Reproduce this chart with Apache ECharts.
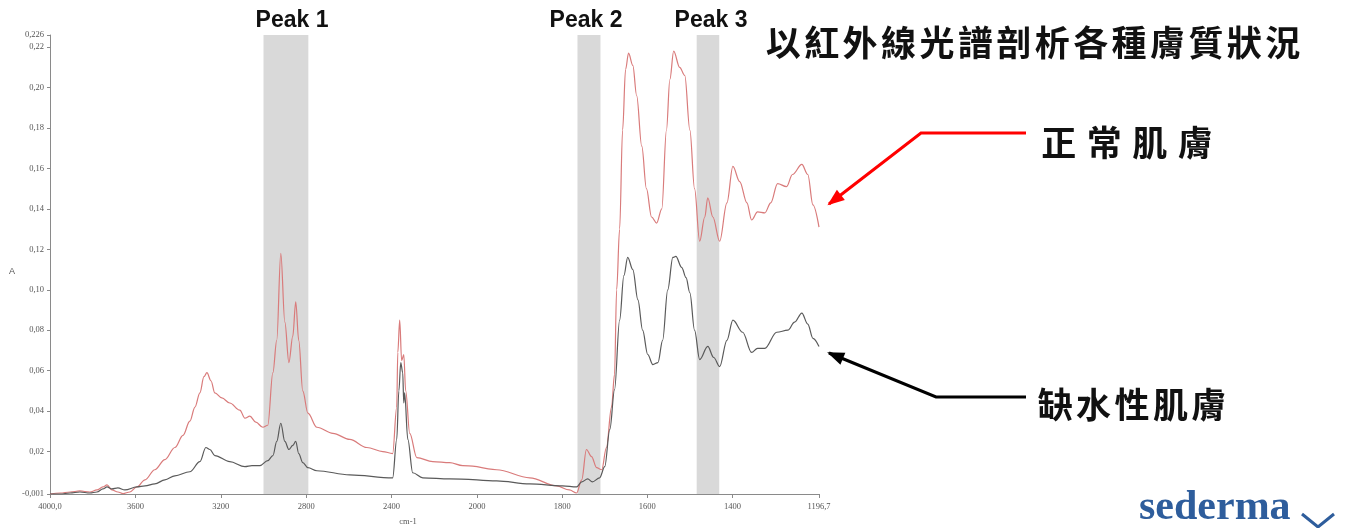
<!DOCTYPE html>
<html><head><meta charset="utf-8">
<script src="https://cdn.jsdelivr.net/npm/echarts@6/dist/echarts.min.js"></script>
<style>html,body{margin:0;padding:0;background:#fff}#c{width:1351px;height:528px}</style>
</head><body><div id="c"></div>
<script>
// ---- data (wavenumber cm-1, absorbance A) ----
const normalWn = [4000,3953,3906,3860,3813,3780,3752,3733,3710,3682,3658,3626,3593,3555,3509,3462,3415,3377,3345,3321,3298,3279,3265,3246,3228,3195,3158,3111,3087,3064,3036,3003,2980,2956,2938,2919,2900,2881,2863,2849,2835,2816,2792,2750,2675,2596,2516,2441,2395,2376,2371,2362,2353,2343,2334,2315,2282,2207,2128,2067,2000,1954,1876,1813,1783,1766,1754,1743,1731,1719,1707,1696,1684,1677,1672,1665,1658,1651,1644,1634,1625,1613,1602,1590,1578,1566,1555,1547,1538,1524,1512,1500,1489,1477,1465,1458,1446,1430,1413,1399,1383,1366,1355,1341,1324,1310,1294,1273,1259,1237,1223,1211,1196.7];
const normalAbs = [-0.001,-0.0005,0.0,0.0005,0.0,0.001,0.0025,0.0035,0.001,0.0,-0.0008,0.0,0.0025,0.006,0.011,0.016,0.022,0.028,0.035,0.042,0.049,0.057,0.059,0.055,0.049,0.0465,0.044,0.0405,0.0365,0.0375,0.0345,0.032,0.033,0.059,0.075,0.118,0.084,0.064,0.077,0.094,0.075,0.050,0.039,0.032,0.029,0.026,0.022,0.020,0.019,0.042,0.069,0.085,0.065,0.068,0.050,0.029,0.017,0.015,0.0145,0.013,0.0125,0.011,0.007,0.003,0.001,-0.0005,0.006,0.021,0.0175,0.012,0.011,0.022,0.042,0.058,0.100,0.130,0.179,0.209,0.217,0.211,0.196,0.171,0.150,0.136,0.133,0.140,0.179,0.204,0.218,0.210,0.206,0.179,0.150,0.124,0.136,0.1455,0.136,0.124,0.143,0.161,0.1535,0.143,0.1345,0.1385,0.138,0.143,0.1525,0.151,0.157,0.162,0.157,0.142,0.131];
const dryWn = [4000,3953,3906,3860,3813,3780,3752,3733,3710,3682,3649,3593,3555,3509,3462,3415,3345,3298,3270,3251,3228,3158,3087,3054,3017,2980,2956,2938,2919,2900,2881,2863,2849,2835,2816,2792,2750,2596,2395,2376,2366,2357,2348,2343,2339,2324,2301,2254,2128,2000,1954,1876,1799,1766,1754,1740,1729,1712,1700,1688,1677,1665,1655,1646,1634,1622,1611,1599,1587,1575,1564,1552,1540,1533,1519,1509,1500,1489,1477,1458,1444,1430,1413,1399,1376,1355,1341,1324,1296,1270,1254,1237,1223,1211,1196.7];
const dryAbs = [-0.001,-0.001,-0.0005,0.0,-0.0005,0.0,0.0015,0.0025,0.0015,0.002,0.001,0.0025,0.003,0.004,0.006,0.008,0.010,0.015,0.022,0.021,0.018,0.015,0.0125,0.013,0.013,0.0155,0.018,0.025,0.034,0.025,0.021,0.023,0.025,0.019,0.0145,0.012,0.0105,0.0085,0.007,0.026,0.050,0.064,0.059,0.044,0.049,0.026,0.0095,0.007,0.0065,0.006,0.0055,0.004,0.003,0.0025,0.005,0.0065,0.005,0.007,0.0125,0.031,0.0505,0.085,0.107,0.116,0.110,0.095,0.080,0.068,0.063,0.064,0.075,0.100,0.116,0.1165,0.111,0.106,0.0985,0.080,0.0655,0.072,0.0665,0.062,0.075,0.085,0.079,0.069,0.071,0.071,0.079,0.080,0.084,0.0885,0.083,0.076,0.072];
const yTicks = [-0.001,0.02,0.04,0.06,0.08,0.10,0.12,0.14,0.16,0.18,0.20,0.22,0.226];
const xTicksLeft = [4000,3600,3200,2800,2400,2000];
const xTicksRight = [1800,1600,1400,1196.7];
const peakBands = [[3000,2790],[1764,1710],[1484,1431]];
const peakNames = ['Peak 1','Peak 2','Peak 3'];
const titleText = '以紅外線光譜剖析各種膚質狀況';
const normalLabel = '正常肌膚';
const dryLabel = '缺水性肌膚';
const brandText = 'sederma';
const BREAK_WN = 2000;
const X_MIN = 1196.7, X_MAX = 4000, Y_MIN = -0.001, Y_MAX = 0.226;

// ---- build ----
function pairs(wn, ab, keep){ const out=[]; for(let i=0;i<wn.length;i++){ if(keep(wn[i])) out.push([wn[i],ab[i]]);} return out; }
const hi = w => w >= BREAK_WN, lo = w => w <= BREAK_WN;
const RED = '#d97b7b', GRAY = '#5a5a5a';
const lblFont = {fontFamily:'Liberation Serif', fontSize:8.5, color:'#555'};
function xFmt(v){ if (v===X_MAX) return '4000,0'; return String(v).replace('.',','); }
function yFmt(v){ if (v===Y_MIN) return '-0,001'; if (v===Y_MAX) return '0,226'; return v.toFixed(2).replace('.',','); }

function xAxisCfg(idx, min, max, ticks){
  return {type:'value', gridIndex:idx, min:min, max:max, inverse:true,
    axisLine:{show:true, onZero:false, lineStyle:{color:'#8a8a8a', width:1}},
    axisTick:{show:true, customValues:ticks, length:4, lineStyle:{color:'#8a8a8a'}},
    axisLabel:Object.assign({customValues:ticks, formatter:xFmt, margin:8}, lblFont),
    splitLine:{show:false}};
}
function yAxisCfg(idx, show){
  return {type:'value', gridIndex:idx, min:Y_MIN, max:Y_MAX, show:show,
    axisLine:{show:true, onZero:false, lineStyle:{color:'#8a8a8a', width:1}},
    axisTick:{show:true, customValues:yTicks, length:3, lineStyle:{color:'#8a8a8a'}},
    axisLabel:Object.assign({customValues:yTicks, formatter:yFmt, margin:6}, lblFont),
    splitLine:{show:false}};
}
function bandSeries(axisIdx, bands){
  return {type:'line', xAxisIndex:axisIdx, yAxisIndex:axisIdx, data:[], z:1, silent:true,
    markArea:{silent:true, itemStyle:{color:'#d9d9d9'}, data:bands.map(b=>[{xAxis:b[0]},{xAxis:b[1]}])}};
}
function lineSeries(axisIdx, data, color){
  return {type:'line', xAxisIndex:axisIdx, yAxisIndex:axisIdx, data:data, showSymbol:false, z:3,
    smooth:0.35, smoothMonotone:'x',
    lineStyle:{color:color, width:1.2}, itemStyle:{color:color}, silent:true};
}

const graphics = [];
function spaced(text, x0, x1, yc, size, color, weight){
  const n = text.length, pitch = (x1-x0)/n;
  for(let i=0;i<n;i++){
    graphics.push({type:'text', silent:true, style:{text:text[i], x:x0+pitch*(i+0.5), y:yc,
      textAlign:'center', textVerticalAlign:'middle', fill:color,
      font:(weight||'bold')+' '+size+'px "Noto Sans CJK TC"'}});
  }
}
function txt(text, x, y, font, color, align){
  graphics.push({type:'text', silent:true, style:{text:text, x:x, y:y, textAlign:align||'center', textVerticalAlign:'middle', fill:color, font:font}});
}
function arrow(points, color, w){
  graphics.push({type:'polyline', silent:true, shape:{points:points}, style:{stroke:color, lineWidth:w, fill:null}});
  const t = points[points.length-1], p = points[points.length-2];
  const dx=t[0]-p[0], dy=t[1]-p[1], L=Math.hypot(dx,dy), ux=dx/L, uy=dy/L;
  const len=15, hw=6.5, bx=t[0]-ux*len, by=t[1]-uy*len;
  graphics.push({type:'polygon', silent:true, shape:{points:[[t[0]+ux*2,t[1]+uy*2],[bx-uy*hw,by+ux*hw],[bx+uy*hw,by-ux*hw]]}, style:{fill:color}});
}

const peakX = [292, 586, 711];
peakNames.forEach((n,i)=>txt(n, peakX[i], 21, 'bold 23px Arial, "Liberation Sans"', '#111'));
spaced(titleText, 764, 1302, 43, 35, '#111');
spaced(normalLabel, 1036, 1218, 143, 35, '#111');
spaced(dryLabel, 1036, 1228, 405, 35, '#111');
arrow([[1026,133],[921,133],[829,204]], '#ff0000', 3);
arrow([[1026,397],[936,397],[829,353]], '#000000', 3);
txt('A', 12, 272, '9px "Liberation Sans"', '#555');
txt('cm-1', 408, 522, '8.5px "Liberation Serif"', '#555');
txt(brandText, 1139, 508, 'bold 42px "Liberation Serif"', '#2e5d9c', 'left');
graphics.push({type:'polyline', silent:true, shape:{points:[[1302,514],[1318,527],[1334,514]]}, style:{stroke:'#2e5d9c', lineWidth:3, fill:null}});

const chart = echarts.init(document.getElementById('c'), null, {renderer:'canvas'});
chart.setOption({
  animation:false,
  backgroundColor:'#fff',
  grid:[{left:50, top:35, width:427, bottom:34, containLabel:false},
        {left:477, top:35, width:342, bottom:34, containLabel:false}],
  xAxis:[xAxisCfg(0, BREAK_WN, X_MAX, xTicksLeft), xAxisCfg(1, X_MIN, BREAK_WN, xTicksRight)],
  yAxis:[yAxisCfg(0, true), yAxisCfg(1, false)],
  series:[
    bandSeries(0, peakBands.filter(b=>b[0]>=BREAK_WN)),
    bandSeries(1, peakBands.filter(b=>b[0]<BREAK_WN)),
    lineSeries(0, pairs(normalWn, normalAbs, hi), RED),
    lineSeries(1, pairs(normalWn, normalAbs, lo), RED),
    lineSeries(0, pairs(dryWn, dryAbs, hi), GRAY),
    lineSeries(1, pairs(dryWn, dryAbs, lo), GRAY)
  ],
  graphic:graphics
});
</script></body></html>
